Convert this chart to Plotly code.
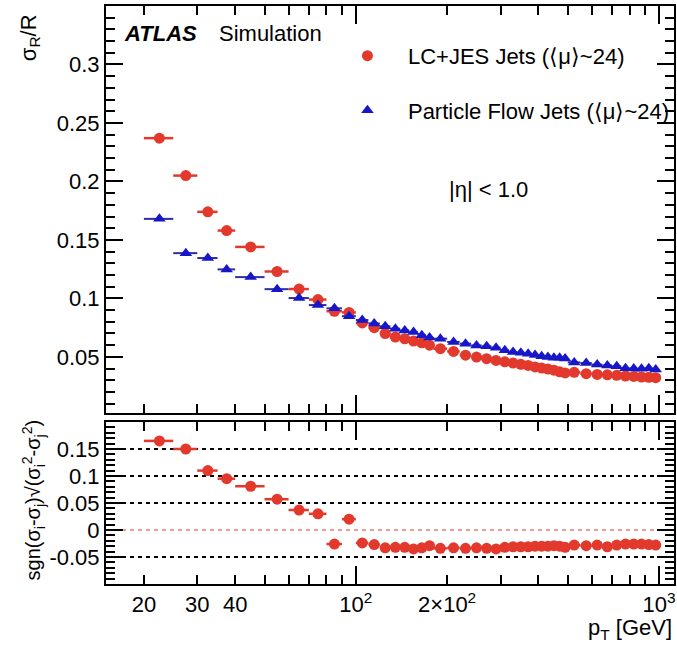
import plotly.graph_objects as go
import math

# ---------------- data ----------------
bin_edges = [20, 25, 30, 35, 40, 50, 60, 70, 80, 90, 100,
             110, 120, 130, 140, 150, 160, 170, 180,
             200, 220, 240, 260, 280, 300, 320, 340, 360, 380, 400,
             420, 440, 460, 480, 500,
             550, 600, 650, 700, 750, 800, 850, 900, 950, 1000]

lcjes_res = [0.237, 0.205, 0.174, 0.158, 0.144, 0.123, 0.108, 0.099, 0.089, 0.088,
             0.079, 0.075, 0.070, 0.067, 0.0655, 0.0635, 0.062, 0.060, 0.057,
             0.0547, 0.0515, 0.0498, 0.0485, 0.047, 0.0458, 0.0447, 0.0436, 0.0427,
             0.0414, 0.0405, 0.0396, 0.0386, 0.0372, 0.0363,
             0.0368, 0.0356, 0.035, 0.0347, 0.0342, 0.0336, 0.0333, 0.0328, 0.0326, 0.0322]

pflow_res = [0.168, 0.1387, 0.1345, 0.1248, 0.1182, 0.1079, 0.1003, 0.0943, 0.0915, 0.0848,
             0.0815, 0.0786, 0.0761, 0.0741, 0.0726, 0.0712, 0.0686, 0.0665, 0.0656,
             0.0628, 0.0613, 0.0598, 0.059, 0.0579, 0.0556, 0.0542, 0.0536, 0.0527,
             0.0516, 0.0505, 0.0498, 0.0493, 0.0492, 0.0487,
             0.0453, 0.0447, 0.0434, 0.0427, 0.0419, 0.0403, 0.0400, 0.0399, 0.0403, 0.0392]

quad_diff = [0.165, 0.150, 0.110, 0.095, 0.081, 0.057, 0.037, 0.030, -0.026, 0.020,
             -0.024, -0.027, -0.033, -0.032, -0.032, -0.035, -0.033, -0.029, -0.034,
             -0.033, -0.034, -0.033, -0.034, -0.035, -0.032, -0.031, -0.031, -0.031,
             -0.030, -0.030, -0.030, -0.029, -0.030, -0.032,
             -0.028, -0.029, -0.028, -0.031, -0.028, -0.026, -0.026, -0.026, -0.027, -0.028]

ref_lines = [0.15, 0.1, 0.05, -0.05]
zero_line = [0.0]

x_tickvals = [20, 30, 40, 100, 200, 1000]
x_ticktext = ["20", "30", "40", "10<sup>2</sup>", "2\u00d710<sup>2</sup>", "10<sup>3</sup>"]
x_minor_ticks = [50, 60, 70, 80, 90, 300, 400, 500, 600, 700, 800, 900]
x_long_ticks = [100, 1000]

label_lc = "LC+JES Jets (\u27e8\u03bc\u27e9~24)"
label_pf = "Particle Flow Jets (\u27e8\u03bc\u27e9~24)"

# ---------------- derived ----------------
centers = [(a + b) / 2 for a, b in zip(bin_edges[:-1], bin_edges[1:])]
half_w = [(b - a) / 2 for a, b in zip(bin_edges[:-1], bin_edges[1:])]

RED = "#e3392c"
BLUE = "#1717c9"
BLUE_BAR = "#2e2e9e"
FONT = "Liberation Sans, Arial, Helvetica, sans-serif"
xr = [math.log10(15), math.log10(1120)]

fig = go.Figure()
fig.add_trace(go.Scatter(
    x=centers, y=lcjes_res, mode="markers", name=label_lc,
    marker=dict(symbol="circle", size=11, color=RED),
    error_x=dict(type="data", array=half_w, color=RED, thickness=2.5, width=0),
    xaxis="x", yaxis="y", legendgroup="a"))
fig.add_trace(go.Scatter(
    x=centers, y=pflow_res, mode="markers", name=label_pf,
    marker=dict(symbol="triangle-up", size=11, color=BLUE),
    error_x=dict(type="data", array=half_w, color=BLUE_BAR, thickness=2, width=0),
    xaxis="x", yaxis="y", legendgroup="b"))
fig.add_trace(go.Scatter(
    x=centers, y=quad_diff, mode="markers", showlegend=False,
    marker=dict(symbol="circle", size=11, color=RED),
    error_x=dict(type="data", array=half_w, color=RED, thickness=2.5, width=0),
    xaxis="x2", yaxis="y2"))
# empty traces to carry the long-tick overlay axes
fig.add_trace(go.Scatter(x=[], y=[], xaxis="x3", yaxis="y", showlegend=False))
fig.add_trace(go.Scatter(x=[], y=[], xaxis="x4", yaxis="y2", showlegend=False))

for v in ref_lines:
    fig.add_shape(type="line", xref="x2 domain", yref="y2", x0=0, x1=1, y0=v, y1=v,
                  line=dict(color="black", width=2, dash="4px,4px"), layer="below")
for v in zero_line:
    fig.add_shape(type="line", xref="x2 domain", yref="y2", x0=0, x1=1, y0=v, y1=v,
                  line=dict(color=RED, width=1, dash="4px,4px"), layer="below")

common_x = dict(type="log", range=xr, showgrid=False, zeroline=False, automargin=False,
                ticks="inside", ticklen=9, tickwidth=1.5, tickcolor="black",
                tickvals=x_tickvals, mirror="ticks", showline=True, linecolor="black",
                linewidth=2, ticklabeloverflow="allow",
                minor=dict(tickvals=x_minor_ticks, ticks="inside", ticklen=9,
                           tickwidth=1.5, tickcolor="black", showgrid=False))
long_x = dict(type="log", range=xr, showgrid=False, zeroline=False, automargin=False,
              ticks="inside", ticklen=18, tickwidth=1.5, tickcolor="black",
              tickvals=x_long_ticks, mirror="ticks", showline=False, showticklabels=False)
common_y = dict(showgrid=False, zeroline=False, automargin=False, ticks="inside",
                ticklen=17, tickwidth=1.5,
                tickcolor="black", mirror="ticks", showline=True, linecolor="black",
                linewidth=2, dtick=0.05,
                minor=dict(dtick=0.01, ticks="inside", ticklen=9, tickwidth=1.5,
                           tickcolor="black", showgrid=False),
                tickfont=dict(size=22, color="black", family=FONT))

top_dom = [0.2958, 1.0]
bot_dom = [0.0, 0.2803]

fig.update_layout(
    width=677, height=646,
    margin=dict(l=106, r=3, t=6, b=62, autoexpand=False),
    paper_bgcolor="white", plot_bgcolor="white",
    font=dict(family=FONT, size=22, color="black"),
    showlegend=True,
    legend=dict(x=0.389, y=0.95, xanchor="left", yanchor="top",
                font=dict(size=22, family=FONT), bgcolor="rgba(0,0,0,0)",
                tracegroupgap=23, itemwidth=71),
    xaxis=dict(common_x, domain=[0, 1], anchor="y", showticklabels=False),
    xaxis2=dict(common_x, domain=[0, 1], anchor="y2", ticktext=x_ticktext,
                tickfont=dict(size=22, color="black", family=FONT)),
    xaxis3=dict(long_x, overlaying="x", anchor="y"),
    xaxis4=dict(long_x, overlaying="x2", anchor="y2"),
    yaxis=dict(common_y, domain=top_dom, anchor="x", range=[0.002, 0.35],
               tickvals=[0.05, 0.1, 0.15, 0.2, 0.25, 0.3],
               ticktext=["0.05", "0.1", "0.15", "0.2", "0.25", "0.3"]),
    yaxis2=dict(common_y, domain=bot_dom, anchor="x2", range=[-0.1, 0.2],
                tickvals=[-0.05, 0, 0.05, 0.1, 0.15],
                ticktext=["-0.05", "0", "0.05", "0.1", "0.15"]),
)

ann = [
    dict(text="<b><i>ATLAS</i></b>", x=0.028, y=0.953, xanchor="left", yanchor="middle"),
    dict(text="Simulation", x=0.195, y=0.953, xanchor="left", yanchor="middle"),
    dict(text="|\u03b7| < 1.0", x=0.600, y=0.682, xanchor="left", yanchor="middle"),
    dict(text="p<sub>T</sub> [GeV]", x=1.0, y=-0.077, xanchor="right", yanchor="middle"),
    dict(text="\u03c3<sub>R</sub>/R", x=-0.134, y=0.99, xanchor="center", yanchor="top",
         textangle=-90),
    dict(text="sgn(\u03c3<sub>i</sub>-\u03c3<sub>j</sub>)\u221a(\u03c3<sub>i</sub><sup>2</sup>-\u03c3<sub>j</sub><sup>2</sup>)",
         x=-0.128, y=0.145, xanchor="center", yanchor="middle", textangle=-90,
         font=dict(size=20)),
]
for a in ann:
    a.setdefault("font", dict(size=22))
    fig.add_annotation(xref="paper", yref="paper", showarrow=False, **a)

fig.write_html("out.html")
